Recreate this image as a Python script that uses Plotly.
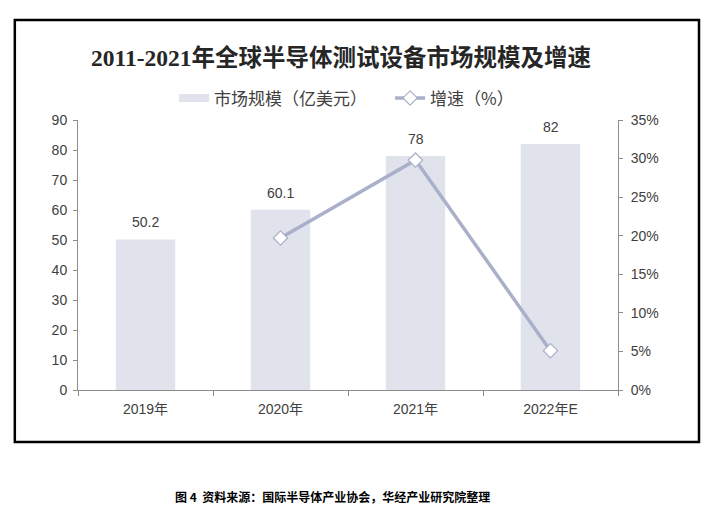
import plotly.graph_objects as go

years = ["2019年", "2020年", "2021年", "2022年E"]
market_size = [50.2, 60.1, 78, 82]
size_labels = ["50.2", "60.1", "78", "82"]
growth_years = ["2020年", "2021年", "2022年E"]
growth_rate = [19.7, 29.8, 5.1]

bar_color = "#e0e3ec"
line_color = "#aab0c9"
text_color = "#404040"
axis_color = "#8c8c8c"
base_font = "Liberation Sans, Arial, Noto Sans CJK SC"
legend_font = dict(family="Noto Sans CJK SC", size=17, color=text_color)

fig = go.Figure()
fig.add_trace(go.Bar(
    x=years, y=market_size, name="市场规模（亿美元）", showlegend=False,
    marker=dict(color=bar_color, line=dict(width=0)),
    width=0.44,
))
# legend stand-in for the bars: a wide flat swatch like the original
fig.add_trace(go.Scatter(
    x=[None], y=[None], name="市场规模（亿美元）", mode="lines",
    line=dict(color=bar_color, width=8), legend="legend",
))
fig.add_trace(go.Scatter(
    x=growth_years, y=growth_rate, name="增速（%）", yaxis="y2",
    mode="lines+markers", legend="legend2",
    line=dict(color=line_color, width=3.5),
    marker=dict(symbol="diamond", size=11, color="white",
                line=dict(color=line_color, width=1.2)),
))

# value labels above the bars
label_notes = [dict(
    x=yr, y=v, xref="x", yref="y", text=t, showarrow=False,
    yshift=17, yanchor="middle", font=dict(size=14, color=text_color),
) for yr, v, t in zip(years, market_size, size_labels)]

fig.update_layout(
    width=722, height=525,
    margin=dict(l=70, r=112, t=112, b=143),
    paper_bgcolor="white", plot_bgcolor="white",
    font=dict(family=base_font, size=14, color=text_color),
    title=dict(
        text="<b>2011-2021年全球半导体测试设备市场规模及增速</b>",
        font=dict(family="Liberation Serif, Noto Sans CJK SC", size=23.5, color="#262626"),
        x=0.487, xref="paper", xanchor="center", y=0.905, yanchor="middle",
    ),
    showlegend=True,
    legend=dict(
        orientation="h", x=0.178, xanchor="left", y=1.08, yanchor="middle",
        font=legend_font, bgcolor="rgba(0,0,0,0)",
    ),
    legend2=dict(
        orientation="h", x=0.578, xanchor="left", y=1.08, yanchor="middle",
        font=legend_font, bgcolor="rgba(0,0,0,0)",
    ),
    xaxis=dict(
        type="category", categoryorder="array", categoryarray=years,
        showline=True, linecolor=axis_color, linewidth=1,
        ticks="outside", tickson="boundaries", ticklen=5, tickcolor=axis_color,
        tickfont=dict(size=14, color=text_color), showgrid=False,
        ticklabelstandoff=6,
    ),
    yaxis=dict(
        range=[0, 90], dtick=10, showline=True, linecolor=axis_color, linewidth=1,
        ticks="outside", ticklen=4, tickcolor=axis_color, showgrid=False,
        zeroline=False, tickfont=dict(size=14, color=text_color),
        ticklabelstandoff=3,
    ),
    yaxis2=dict(
        range=[0, 35], dtick=5, ticksuffix="%", overlaying="y", side="right",
        showline=True, linecolor=axis_color, linewidth=1,
        ticks="outside", ticklen=4, tickcolor=axis_color, showgrid=False,
        zeroline=False, tickfont=dict(size=14, color=text_color),
        ticklabelstandoff=5,
    ),
    shapes=[dict(
        type="rect", xref="paper", yref="paper",
        x0=-0.117, x1=1.15, y0=-0.193, y1=1.37,
        line=dict(color="black", width=2.5), fillcolor="rgba(0,0,0,0)",
    )],
    annotations=label_notes + [dict(
        text="<b>图 4  资料来源：国际半导体产业协会，华经产业研究院整理</b>",
        xref="paper", yref="paper", x=0.472, y=-0.396,
        xanchor="center", yanchor="middle", showarrow=False,
        font=dict(family="Noto Sans CJK SC", size=12, color="black"),
    )],
)

fig.write_html("out.html")
